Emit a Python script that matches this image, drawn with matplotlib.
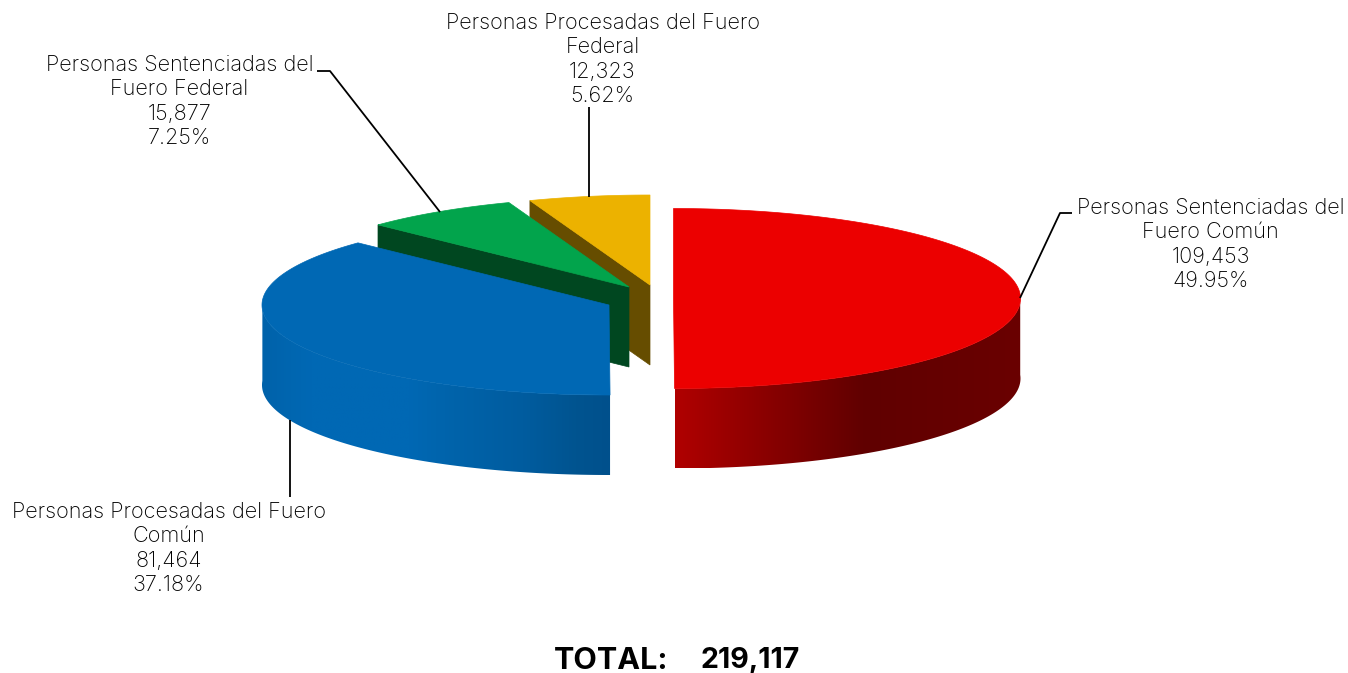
import numpy as np
import matplotlib
matplotlib.use('Agg')
import matplotlib.pyplot as plt
from matplotlib.patches import Polygon
from matplotlib.colors import LinearSegmentedColormap

names = ['Personas Sentenciadas del\nFuero Común',
         'Personas Procesadas del Fuero\nComún',
         'Personas Sentenciadas del\nFuero Federal',
         'Personas Procesadas del Fuero\nFederal']
values = [109453, 81464, 15877, 12323]
top_colors = ['#ec0000', '#0068b4', '#02a44c', '#ecb200']
face_colors = ['#a80000', '#00508c', '#004720', '#664d00']

# apex of each exploded slice, in pixels
centers = [(673.5, 298.5), (609, 305), (629, 287), (650, 285)]
rx, ry = 347, 90
depth = 80
W, H = 1348, 673

plt.rcParams['font.family'] = ['Inter', 'DejaVu Sans']

fig = plt.figure(figsize=(W / 100, H / 100), dpi=100)
ax = fig.add_axes([0, 0, 1, 1])
ax.set_xlim(0, W)
ax.set_ylim(H, 0)
ax.axis('off')

total = sum(values)
edges = np.cumsum([0] + values) / total * 2 * np.pi


def rim(i, n=200):
    # clock angle, 0 at twelve o'clock and going clockwise
    t = np.linspace(edges[i], edges[i + 1], n)
    cx, cy = centers[i]
    return cx + rx * np.sin(t), cy - ry * np.cos(t)


def top_slice(i, z):
    x, y = rim(i)
    cx, cy = centers[i]
    pts = np.column_stack([np.r_[cx, x], np.r_[cy, y]])
    ax.add_patch(Polygon(pts, closed=True, fc=top_colors[i], ec=top_colors[i], lw=0.5, zorder=z))


def cut_face(i, angle, z):
    cx, cy = centers[i]
    ex, ey = cx + rx * np.sin(angle), cy - ry * np.cos(angle)
    pts = [(ex, ey), (cx, cy), (cx, cy + depth), (ex, ey + depth)]
    ax.add_patch(Polygon(pts, closed=True, fc=face_colors[i], ec=face_colors[i], lw=0.5, zorder=z))


def outer_side(i, grad, z):
    x, y = rim(i)
    keep = np.cos(np.linspace(edges[i], edges[i + 1], len(x))) < 0.05
    x, y = x[keep], y[keep]
    pts = np.column_stack([np.r_[x, x[::-1]], np.r_[y, y[::-1] + depth]])
    patch = Polygon(pts, closed=True, fc='none', ec='none', zorder=z)
    ax.add_patch(patch)
    cmap = LinearSegmentedColormap.from_list('side', grad)
    im = ax.imshow(np.linspace(0, 1, 256)[None, :], cmap=cmap, aspect='auto',
                   extent=(x.min(), x.max(), y.max() + depth, y.min()), zorder=z)
    im.set_clip_path(patch)


# back to front
cut_face(3, edges[3], 1)
top_slice(3, 2)
cut_face(2, edges[2], 3)
top_slice(2, 4)
outer_side(1, [(0, '#0062aa'), (0.08, '#0066b0'), (0.14, '#0068b4'), (0.42, '#0068b4'),
               (0.55, '#0063aa'), (0.75, '#005c9f'), (0.9, '#005490'), (1, '#00508c')], 5)
top_slice(1, 6)
outer_side(0, [(0, '#b00000'), (0.55, '#600000'), (1, '#6a0000')], 5)
top_slice(0, 6)
ax.set_xlim(0, W)
ax.set_ylim(H, 0)

# leader lines
leaders = [[(1020, 298), (1060, 213), (1072, 213)],
           [(290, 420), (290, 497)],
           [(440, 212), (330, 71), (317, 71)],
           [(589, 197), (589, 107)]]
for pts in leaders:
    xs, ys = zip(*pts)
    ax.plot(xs, ys, color='black', lw=1.3, zorder=7, solid_capstyle='butt')

# labels, anchored by their centre line and first line top
label_pos = [(1210.5, 198), (168.5, 502), (179.5, 55), (602.5, 13)]
for name, v, (x, y) in zip(names, values, label_pos):
    txt = f'{name}\n{v:,}\n{v / total * 100:.2f}%'
    ax.text(x, y, txt, ha='center', va='top', fontsize=15.6, color='black',
            linespacing=1.28, fontweight='light', zorder=8)

ax.text(554, 661, 'TOTAL:', ha='left', va='center', fontsize=22, fontweight='bold', color='black')
ax.text(800, 661, f'{total:,}', ha='right', va='center', fontsize=20.6, fontweight='bold', color='black')

fig.savefig('out.png', dpi=100, facecolor='white')
